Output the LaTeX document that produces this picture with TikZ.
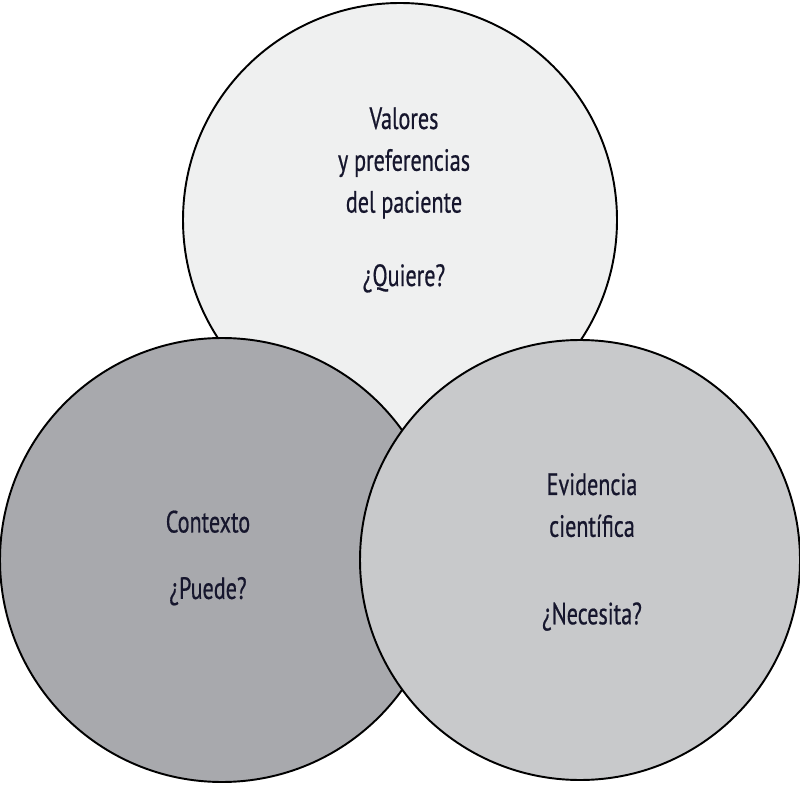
\documentclass[tikz,border=0pt]{standalone}
\usepackage{fontspec}
\setmainfont{PT Sans}[FakeStretch=0.72,FakeBold=0.6]
\usepackage{tikz}
\definecolor{valcol}{RGB}{239,240,240}
\definecolor{ctxcol}{RGB}{168,169,173}
\definecolor{evicol}{RGB}{200,201,203}
\definecolor{txtcol}{RGB}{22,22,45}

\begin{document}
\begin{tikzpicture}[x=0.02cm,y=0.02cm,
    ring/.style={draw=black,line width=1.1pt},
    label/.style={align=center,text=txtcol,font=\fontsize{17.5}{23.8}\selectfont}]

\useasboundingbox (0,0) rectangle (800,788);

% Valores (top circle, drawn first)
\filldraw[ring,fill=valcol] (400,568) circle[radius=217];
\node[label] (val) at (404,588) {Valores\\y preferencias\\del paciente\\[18pt]¿Quiere?};

% Contexto (left circle)
\filldraw[ring,fill=ctxcol] (222,228) circle[radius=222];
\node[label] (ctx) at (208,230) {Contexto\\[14pt]¿Puede?};

% Evidencia (right circle, on top)
\filldraw[ring,fill=evicol] (580,228) circle[radius=220];
\node[label] (evi) at (592,236) {Evidencia\\científica\\[26pt]¿Necesita?};

\end{tikzpicture}
\end{document}
